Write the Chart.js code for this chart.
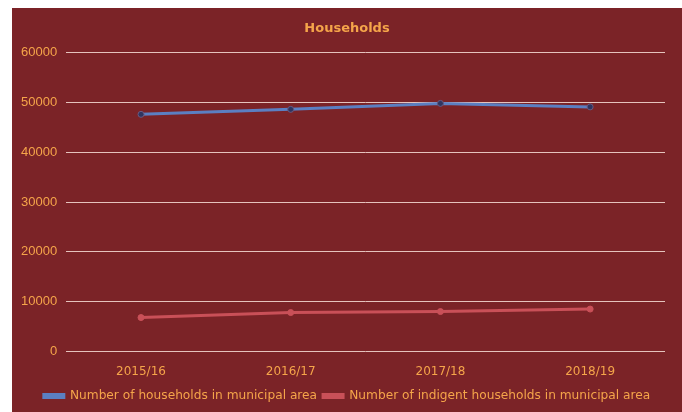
<!DOCTYPE html>
<html>
<head>
<meta charset="utf-8">
<script src="https://cdn.jsdelivr.net/npm/chart.js@4"></script>
<style>
    body { margin: 0; background: #ffffff; }
    #wrap { position: absolute; left: 12px; top: 8px; width: 670px; height: 404px; background: #7b2327; }
</style>
</head>
<body>
<div id="wrap"><canvas id="chart"></canvas></div>
<script>
const years = ['2015/16', '2016/17', '2017/18', '2018/19'];
const households = [47600, 48600, 49800, 49100];
const indigent = [6800, 7800, 8000, 8500];
const yTicks = [0, 10000, 20000, 30000, 40000, 50000, 60000];

const orange = '#f5a54a';

const ctx = document.getElementById('chart').getContext('2d');
const chart = new Chart(ctx, {
    type: 'line',
    data: {
        labels: years,
        datasets: [{
            label: 'Number of households in municipal area',
            data: households,
            borderColor: '#5b7fc2',
            backgroundColor: '#5b7fc2',
            borderWidth: 3,
            pointRadius: 3,
            pointBackgroundColor: '#2f3560',
            pointBorderColor: '#6a5a80',
            pointBorderWidth: 1
        }, {
            label: 'Number of indigent households in municipal area',
            data: indigent,
            borderColor: '#c95058',
            backgroundColor: '#c95058',
            borderWidth: 3,
            pointRadius: 3,
            pointBackgroundColor: '#c95058',
            pointBorderColor: '#c95058',
            pointBorderWidth: 1
        }]
    },
    options: {
        responsive: true,
        maintainAspectRatio: false,
        animation: false,
        layout: { padding: { left: 0, right: 0, top: 6, bottom: 0 } },
        plugins: {
            title: {
                display: true,
                text: 'Households',
                color: orange,
                font: { family: 'DejaVu Sans', size: 13, weight: 'bold' },
                padding: { top: 7, bottom: 16 }
            },
            legend: {
                position: 'bottom',
                labels: {
                    color: orange,
                    font: { family: 'DejaVu Sans', size: 12.2 },
                    boxWidth: 20,
                    boxHeight: 3,
                    padding: 6
                }
            },
            tooltip: { enabled: false }
        },
        scales: {
            x: {
                offset: true,
                grid: { display: false },
                border: { display: false },
                ticks: {
                    color: orange,
                    font: { family: 'DejaVu Sans', size: 12 },
                    padding: 5
                }
            },
            y: {
                min: 0,
                max: 60000,
                afterBuildTicks: axis => { axis.ticks = yTicks.map(v => ({ value: v })); },
                grid: { color: '#e6c3bd', lineWidth: 1, drawTicks: false },
                border: { display: false },
                ticks: {
                    color: orange,
                    font: { family: 'Liberation Sans', size: 13 },
                    padding: 9,
                    callback: v => String(v)
                }
            },
            // empty right axis, only keeps a margin on the right side
            yRight: {
                position: 'right',
                display: true,
                grid: { display: false },
                border: { display: false },
                ticks: { display: false },
                afterFit: axis => { axis.width = 17; }
            }
        }
    }
});
</script>
</body>
</html>
